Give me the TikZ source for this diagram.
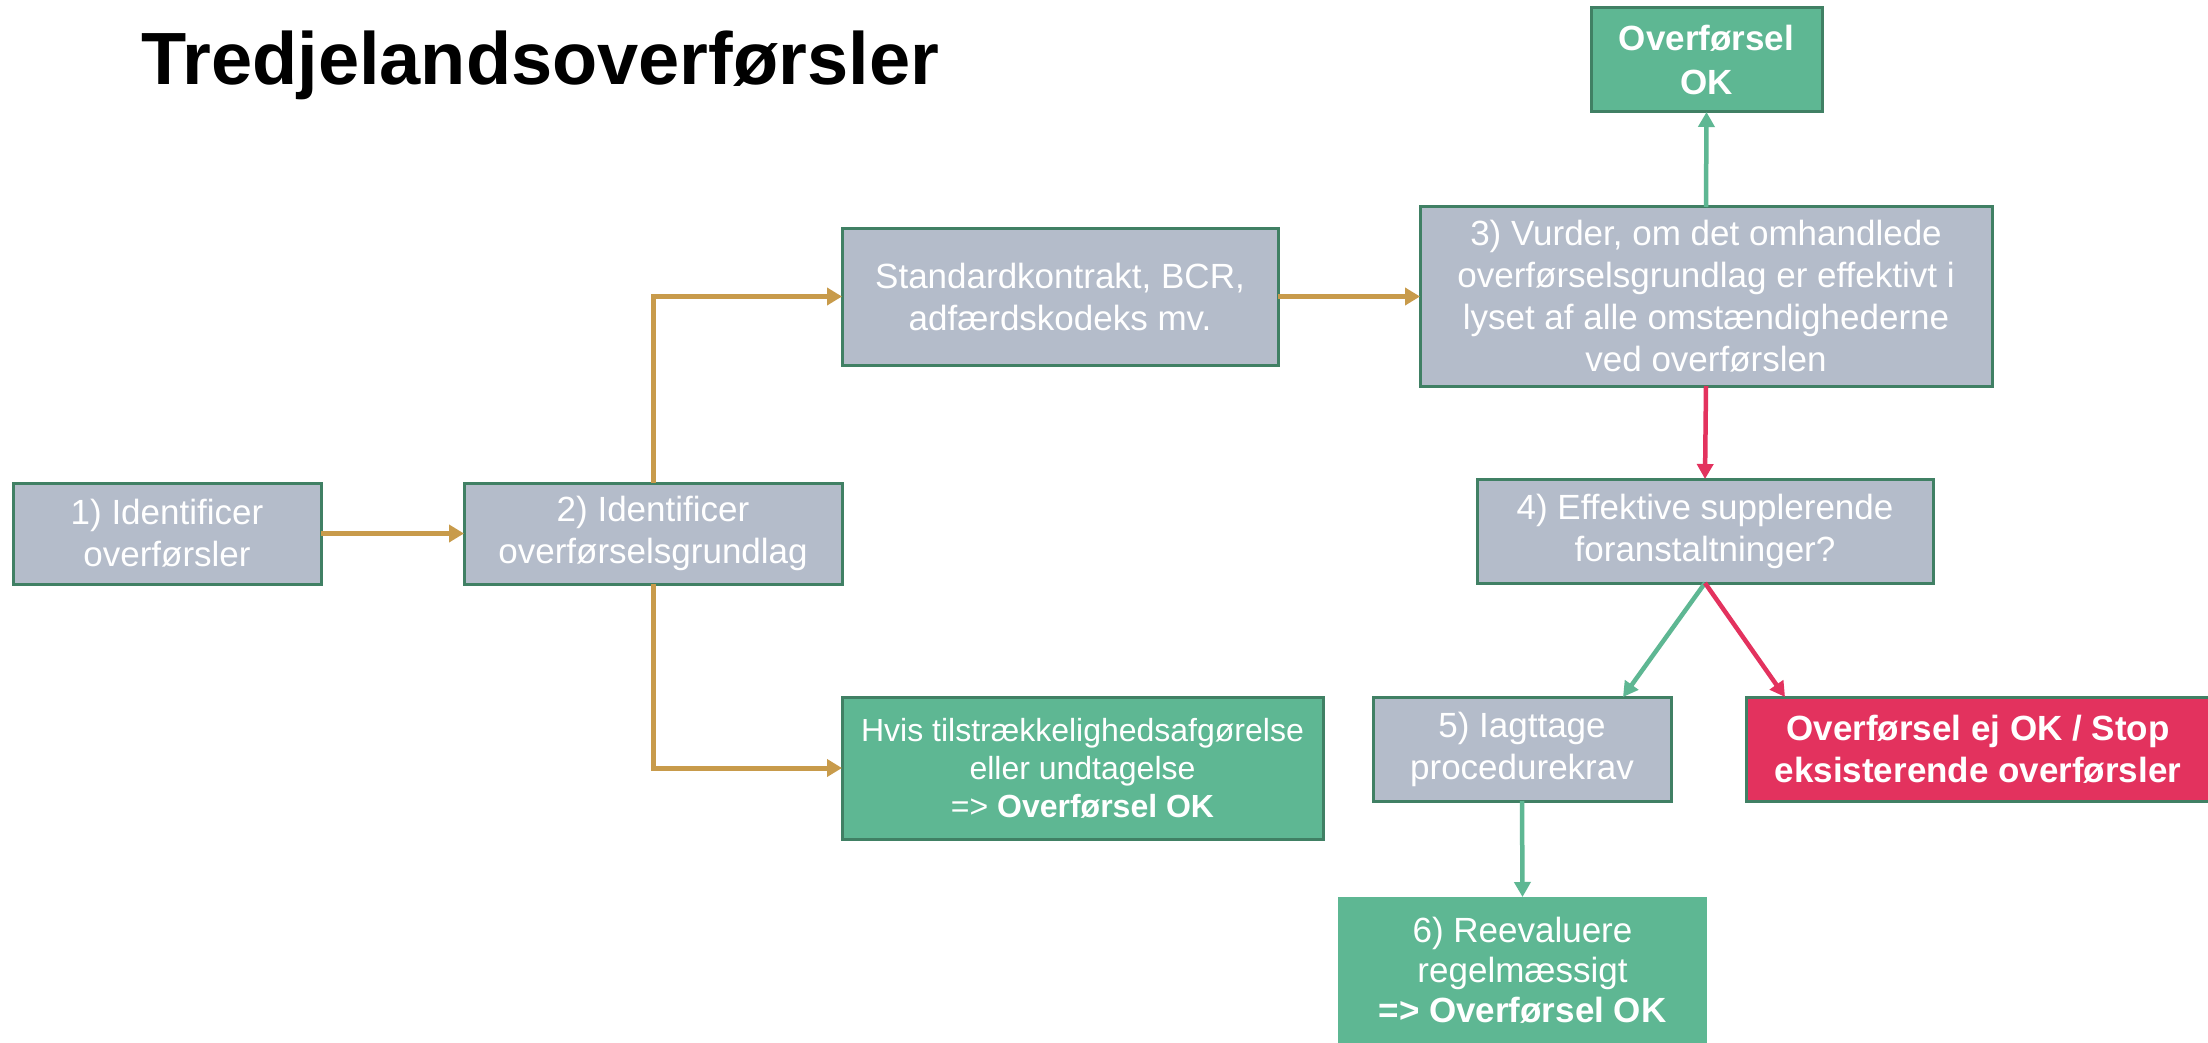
\documentclass[tikz,border=0pt]{standalone}
\usepackage{fontspec}
\setmainfont{Liberation Sans}
\usetikzlibrary{arrows.meta,calc}
\definecolor{boxgray}{RGB}{180,188,202}
\definecolor{boxgreen}{RGB}{94,183,147}
\definecolor{boxred}{RGB}{227,50,94}
\definecolor{boxborder}{RGB}{64,128,100}
\definecolor{arrgold}{RGB}{200,155,75}
\begin{document}
\begin{tikzpicture}[x=1pt,y=-1pt,
  box/.style={rectangle, draw=boxborder, line width=3pt, inner sep=0pt, outer sep=0pt,
    text=white, align=center, font=\fontsize{35}{42}\selectfont},
  graybox/.style={box, fill=boxgray},
  greenbox/.style={box, fill=boxgreen},
  redbox/.style={box, fill=boxred},
  goldarrow/.style={draw=arrgold, line width=5pt, -{Triangle[length=15pt,width=17pt]}},
  greenarrow/.style={draw=boxgreen, line width=4.5pt, -{Triangle[length=15pt,width=16pt]}},
  redarrow/.style={draw=boxred, line width=4.5pt, -{Triangle[length=15pt,width=16pt]}}
]
\useasboundingbox[fill=white] (0,0) rectangle (2208,1043);

\node[anchor=base west, inner sep=0pt, font=\fontsize{74}{80}\selectfont\bfseries] (title) at (141,85) {Tredjelandsoverførsler};

\node[graybox, minimum width=308, minimum height=101] (n1) at (167,533.5) {1) Identificer\\overførsler};
\node[graybox, minimum width=378, minimum height=101] (n2) at (653,533.5) {2) Identificer\\overførselsgrundlag};
\node[graybox, minimum width=436, minimum height=137] (std) at (1060,296.5) {Standardkontrakt, BCR,\\adfærdskodeks mv.};
\node[greenbox, minimum width=481, minimum height=142, font=\fontsize{32}{38}\selectfont] (hvis) at (1082.5,768) {Hvis tilstrækkelighedsafgørelse\\eller undtagelse\\=> \textbf{Overførsel OK}};
\node[graybox, minimum width=572, minimum height=179] (n3) at (1706,296.5) {3) Vurder, om det omhandlede\\overførselsgrundlag er effektivt i\\lyset af alle omstændighederne\\ved overførslen};
\node[greenbox, minimum width=231, minimum height=104, font=\fontsize{35}{44}\selectfont\bfseries] (ok) at (1706.5,60) {Overførsel\\OK};
\node[graybox, minimum width=456, minimum height=104] (n4) at (1705,531) {4) Effektive supplerende\\foranstaltninger?};
\node[graybox, minimum width=298, minimum height=104] (n5) at (1522,749) {5) Iagttage\\procedurekrav};
\node[redbox, minimum width=464, minimum height=104, font=\fontsize{35}{42}\selectfont\bfseries] (stop) at (1978,749) {Overførsel ej OK / Stop\\eksisterende overførsler};
\node[greenbox, draw=none, minimum width=369, minimum height=146, font=\fontsize{35}{40}\selectfont] (n6) at (1522.5,970) {6) Reevaluere\\regelmæssigt\\\textbf{=> Overførsel OK}};

\draw[goldarrow] (n1.east) -- (n2.west);
\draw[goldarrow] (n2.north) |- (std.west);
\draw[goldarrow] (n2.south) |- (hvis.west);
\draw[goldarrow] (std.east) -- (n3.west);
\draw[greenarrow] (n3.north) -- (ok.south);
\draw[redarrow] (n3.south) -- (n4.north);
\draw[greenarrow] (n4.south) -- ($(n5.north east)+(-48,0)$);
\draw[redarrow] (n4.south) -- ($(stop.north west)+(39,0)$);
\draw[greenarrow] (n5.south) -- (n6.north);
\end{tikzpicture}
\end{document}
